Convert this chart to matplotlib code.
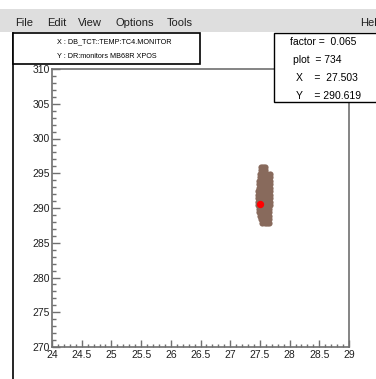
import matplotlib
matplotlib.use("Agg")
import matplotlib.pyplot as plt
from matplotlib.patches import Rectangle
from matplotlib.ticker import MultipleLocator, FormatStrFormatter
from matplotlib.lines import Line2D

plt.rcParams['font.family'] = ['Liberation Sans', 'DejaVu Sans']

# scatter of MB68R XPOS vs TC4 temperature, one row of points per line
pt_x = [27.52, 27.55, 27.585,
        27.52, 27.55, 27.585,
        27.50, 27.54, 27.58, 27.62, 27.67,
        27.50, 27.54, 27.58, 27.62, 27.67,
        27.49, 27.53, 27.57, 27.61, 27.64, 27.67,
        27.485, 27.52, 27.56, 27.60, 27.64, 27.67,
        27.48, 27.52, 27.56, 27.60, 27.64, 27.67,
        27.475, 27.51, 27.55, 27.59, 27.63, 27.67,
        27.47, 27.51, 27.55, 27.59, 27.63, 27.67,
        27.465, 27.50, 27.54, 27.58, 27.62, 27.67,
        27.47, 27.51, 27.55, 27.59, 27.63, 27.67,
        27.475, 27.51, 27.55, 27.59, 27.63, 27.665,
        27.48, 27.52, 27.56, 27.60, 27.655,
        27.49, 27.53, 27.57, 27.61, 27.65,
        27.50, 27.54, 27.58, 27.62, 27.65,
        27.52, 27.56, 27.60, 27.65,
        27.54, 27.58, 27.62, 27.65]
pt_y = [295.9, 295.9, 295.9,
        295.4, 295.4, 295.4,
        294.9, 294.9, 294.9, 294.9, 294.9,
        294.4, 294.4, 294.4, 294.4, 294.4,
        293.9, 293.9, 293.9, 293.9, 293.9, 293.9,
        293.4, 293.4, 293.4, 293.4, 293.4, 293.4,
        292.9, 292.9, 292.9, 292.9, 292.9, 292.9,
        292.4, 292.4, 292.4, 292.4, 292.4, 292.4,
        291.9, 291.9, 291.9, 291.9, 291.9, 291.9,
        291.4, 291.4, 291.4, 291.4, 291.4, 291.4,
        290.9, 290.9, 290.9, 290.9, 290.9, 290.9,
        290.4, 290.4, 290.4, 290.4, 290.4, 290.4,
        289.9, 289.9, 289.9, 289.9, 289.9,
        289.4, 289.4, 289.4, 289.4, 289.4,
        288.9, 288.9, 288.9, 288.9, 288.9,
        288.4, 288.4, 288.4, 288.4,
        287.9, 287.9, 287.9, 287.9]

# stats box values
factor = 0.065
n_plot = 734
mean_x = 27.503
mean_y = 290.619

x_title = "X : DB_TCT::TEMP:TC4.MONITOR"
y_title = "Y : DR:monitors MB68R XPOS"
menu_items = ["File", "Edit", "View", "Options", "Tools"]
menu_pos = [15, 47, 78, 116, 167]

W, H = 376, 379
fig = plt.figure(figsize=(W / 100, H / 100), dpi=100)
fig.patch.set_facecolor("white")


def fx(px):
    return px / W


def fy(py):
    return 1 - py / H


# menu bar
fig.patches.append(Rectangle((0, fy(32)), 1, fy(9) - fy(32), transform=fig.transFigure,
                             facecolor="#dedede", edgecolor="none", zorder=2))
for name, px in zip(menu_items, menu_pos):
    fig.text(fx(px), fy(23), name, fontsize=8, va="center", ha="left", color="#202020", zorder=3)
fig.text(fx(360), fy(23), "Help", fontsize=8, va="center", ha="left", color="#202020", zorder=3)

# canvas left edge
fig.lines.append(Line2D([fx(13), fx(13)], [fy(33), 0], transform=fig.transFigure,
                        color="black", linewidth=1.2, zorder=3))

# main pad
ax = fig.add_axes([fx(52), fy(347), fx(349) - fx(52), fy(69) - fy(347)])
ax.scatter(pt_x, pt_y, s=20, marker="o", color="#886a5c", linewidths=0, zorder=2)
ax.scatter([mean_x], [mean_y], s=28, marker="o", color="#ff0000", linewidths=0, zorder=3)

ax.set_xlim(24, 29)
ax.set_ylim(270, 310)
ax.xaxis.set_major_locator(MultipleLocator(0.5))
ax.xaxis.set_minor_locator(MultipleLocator(0.1))
ax.yaxis.set_major_locator(MultipleLocator(5))
ax.yaxis.set_minor_locator(MultipleLocator(1))
ax.xaxis.set_major_formatter(FormatStrFormatter("%g"))
ax.yaxis.set_major_formatter(FormatStrFormatter("%g"))

for s in ax.spines.values():
    s.set_color("#707070")
    s.set_linewidth(1.2)

ax.tick_params(axis="both", which="both", direction="in", color="#707070", width=1.0,
               top=False, right=False, labelsize=7.5, labelcolor="#202020")
ax.tick_params(axis="x", which="major", length=5, pad=2.5)
ax.tick_params(axis="x", which="minor", length=2.5)
ax.tick_params(axis="y", which="major", length=5.8, pad=1.5)
ax.tick_params(axis="y", which="minor", length=2.9)

# variable titles box
fig.patches.append(Rectangle((fx(13), fy(64)), fx(200) - fx(13), fy(33) - fy(64),
                             transform=fig.transFigure, facecolor="white",
                             edgecolor="black", linewidth=1.2, zorder=4))
fig.text(fx(57), fy(42), x_title, fontsize=5.2, va="center", ha="left", zorder=5)
fig.text(fx(57), fy(57), y_title, fontsize=5.2, va="center", ha="left", zorder=5)

# stats box
fig.patches.append(Rectangle((fx(274), fy(102)), fx(380) - fx(274), fy(33) - fy(102),
                             transform=fig.transFigure, facecolor="white",
                             edgecolor="black", linewidth=1.0, zorder=4))
fig.text(fx(290), fy(42), f"factor =  {factor:.3f}", fontsize=7.5, va="center", ha="left", zorder=5)
fig.text(fx(293), fy(60), f"plot  = {n_plot}", fontsize=7.5, va="center", ha="left", zorder=5)
fig.text(fx(296), fy(78), f"X    =  {mean_x:.3f}", fontsize=7.5, va="center", ha="left", zorder=5)
fig.text(fx(296), fy(96), f"Y    = {mean_y:.3f}", fontsize=7.5, va="center", ha="left", zorder=5)

fig.savefig("out.png", dpi=100)
